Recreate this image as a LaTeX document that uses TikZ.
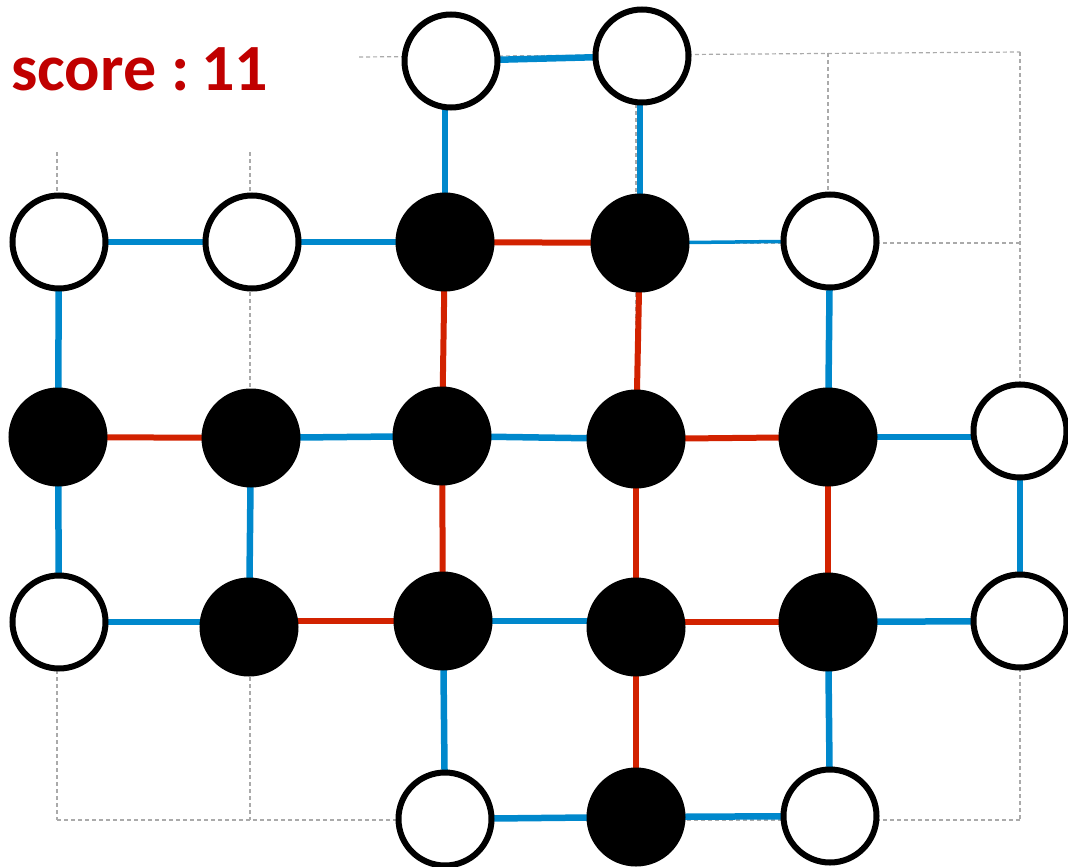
\documentclass[tikz,border=0pt]{standalone}
\usepackage{fontspec}
\usetikzlibrary{backgrounds}
\newfontfamily\scorefont{Carlito}
\definecolor{edgeblue}{RGB}{0,136,204}
\definecolor{edgered}{RGB}{210,34,0}
\definecolor{scorered}{RGB}{192,0,0}
\definecolor{gridgray}{RGB}{170,170,170}
\begin{document}
\begin{tikzpicture}[x=1pt,y=-1pt,
  wnode/.style={circle,draw=black,fill=white,line width=6pt,minimum size=93pt,inner sep=0pt},
  bnode/.style={circle,draw=black,fill=black,line width=6pt,minimum size=93pt,inner sep=0pt},
  bedge/.style={draw=edgeblue,line width=6.5pt},
  tedge/.style={draw=edgeblue,line width=3.5pt},
  redge/.style={draw=edgered,line width=6pt},
  gridline/.style={draw=gridgray,line width=1.2pt,dash pattern=on 4pt off 3pt}]
\useasboundingbox (0,0) rectangle (1068,867);
% score
\node[anchor=base west,inner sep=0pt,text=scorered,font=\scorefont\bfseries\fontsize{66}{70}\selectfont] (score) at (11,91) {score :\kern-3pt\ 11};
% nodes
\node[wnode] (a1) at (451,61) {};
\node[wnode] (a2) at (642,56) {};
\node[wnode] (b0) at (59,242) {};
\node[wnode] (b1) at (252,242) {};
\node[bnode] (b2) at (445,242) {};
\node[bnode] (b3) at (640,243) {};
\node[wnode] (b4) at (830,241) {};
\node[bnode] (c0) at (58,437) {};
\node[bnode] (c1) at (251,438) {};
\node[bnode] (c2) at (442,436) {};
\node[bnode] (c3) at (636,439) {};
\node[bnode] (c4) at (828,437) {};
\node[wnode] (c5) at (1020,431) {};
\node[wnode] (d0) at (59,622) {};
\node[bnode] (d1) at (249,627) {};
\node[bnode] (d2) at (443,621) {};
\node[bnode] (d3) at (636,627) {};
\node[bnode] (d4) at (828,622) {};
\node[wnode] (d5) at (1020,621) {};
\node[wnode] (e2) at (445,819) {};
\node[bnode] (e3) at (636,817) {};
\node[wnode] (e4) at (830,816) {};
\begin{pgfonlayer}{background}
% background dashed grid
\coordinate (g1a) at (57,152);  \coordinate (g1b) at (57,820);
\coordinate (g2a) at (250,152); \coordinate (g2b) at (250,820);
\coordinate (g3a) at (443,58);  \coordinate (g3b) at (443,820);
\coordinate (g4a) at (636,55);  \coordinate (g4b) at (636,820);
\coordinate (g5a) at (828,53);  \coordinate (g5b) at (828,820);
\coordinate (g6a) at (1020,52); \coordinate (g6b) at (1020,820);
\coordinate (h1a) at (359,57);  \coordinate (h1b) at (1020,52);
\coordinate (h2a) at (57,243);  \coordinate (h2b) at (1020,243);
\coordinate (h3a) at (57,437);  \coordinate (h3b) at (1020,437);
\coordinate (h4a) at (57,622);  \coordinate (h4b) at (1020,622);
\coordinate (h5a) at (57,820);  \coordinate (h5b) at (1020,820);
\foreach \p in {g1,g2,g3,g4,g5,g6,h1,h2,h3,h4,h5}{\draw[gridline] (\p a) -- (\p b);}
% edges (drawn along the grid lines)
\draw[bedge] (a1.center) -- (a2.center);
\draw[bedge] (b2.center |- a1.center) -- (b2.center);
\draw[bedge] (b3.center |- a2.center) -- (b3.center);
\draw[bedge] (b0.center) -- (b1.center);
\draw[bedge] (b1.center) -- (b2.center);
\draw[redge] (b2.center) -- (b3.center);
\draw[tedge] (b3.center) -- (b4.center);
\draw[bedge] (b0.center) -- (c0.center);
\draw[redge] (b2.center) -- (c2.center);
\draw[redge] (b3.center) -- (c3.center);
\draw[bedge] (b4.center) -- (c4.center);
\draw[redge] (c0.center) -- (c1.center);
\draw[bedge] (c1.center) -- (c2.center);
\draw[bedge] (c2.center) -- (c3.center);
\draw[redge] (c3.center) -- (c4.center);
\draw[bedge] (c4.center) -- (c4.center -| c5.center);
\draw[bedge] (c0.center) -- (d0.center);
\draw[bedge] (c1.center) -- (d1.center);
\draw[redge] (c2.center) -- (d2.center);
\draw[redge] (c3.center) -- (d3.center);
\draw[redge] (c4.center) -- (d4.center);
\draw[bedge] (c5.center) -- (d5.center);
\draw[bedge] (d0.center) -- (d0.center -| d1.center);
\draw[redge] (d2.center -| d1.center) -- (d2.center);
\draw[bedge] (d2.center) -- (d2.center -| d3.center);
\draw[redge] (d4.center -| d3.center) -- (d4.center);
\draw[bedge] (d4.center) -- (d5.center);
\draw[bedge] (d2.center) -- (e2.center);
\draw[redge] (d3.center) -- (e3.center);
\draw[bedge] (d4.center) -- (e4.center);
\draw[bedge] (e2.center) -- (e3.center);
\draw[bedge] (e3.center) -- (e4.center);
\end{pgfonlayer}
\end{tikzpicture}
\end{document}
